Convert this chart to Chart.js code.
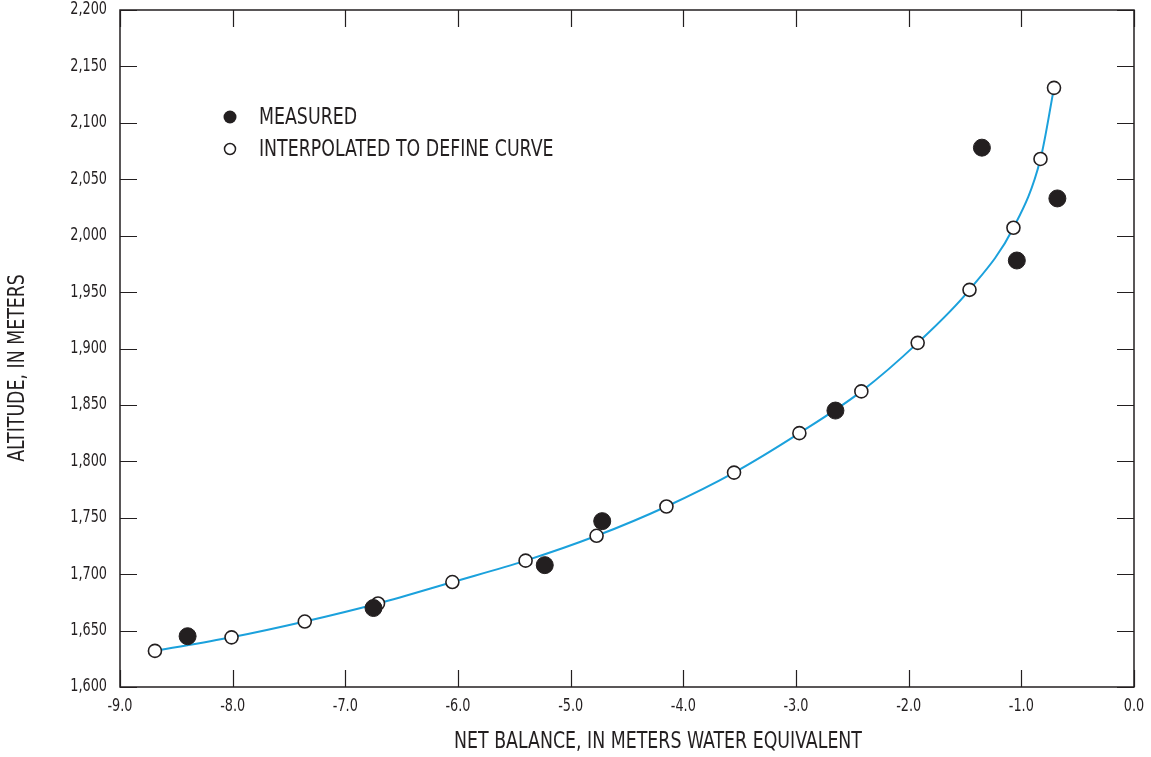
<!DOCTYPE html>
<html>
<head>
<meta charset="utf-8">
<script src="https://cdn.jsdelivr.net/npm/chart.js@4"></script>
<style>
  body { margin: 0; background: #fff; }
  #wrap { width: 1151px; height: 757px; position: relative; }
</style>
</head>
<body>
<div id="wrap"><canvas id="altchart"></canvas></div>
<script>
// values
var interpBalance = [-8.69, -8.01, -7.36, -6.71, -6.05, -5.40, -4.77, -4.15, -3.55, -2.97, -2.42, -1.92, -1.46, -1.07, -0.83, -0.71];
var interpAltitude = [1632, 1644, 1658, 1674, 1693, 1712, 1734, 1760, 1790, 1825, 1862, 1905, 1952, 2007, 2068, 2131];
var measBalance = [-8.40, -6.75, -5.23, -4.72, -2.65, -1.35, -1.04, -0.68];
var measAltitude = [1645, 1670, 1708, 1747, 1845, 2078, 1978, 2033];
var legendLabels = ['MEASURED', 'INTERPOLATED TO DEFINE CURVE'];
var xTitle = 'NET BALANCE, IN METERS WATER EQUIVALENT';
var yTitle = 'ALTITUDE, IN METERS';

var ink = '#231f20';
var fontFam = "'DejaVu Sans Condensed', 'Liberation Sans Narrow', sans-serif";
var squeeze = 0.84; // narrow the text like the condensed face in the figure

function toPoints(xs, ys) {
  return xs.map(function (x, i) { return { x: x, y: ys[i] }; });
}

var canvas = document.getElementById('altchart');
var cctx = canvas.getContext('2d');
var rawFill = CanvasRenderingContext2D.prototype.fillText;
cctx.fillText = function (text, x, y, maxW) {
  this.save();
  this.translate(x, y);
  this.scale(squeeze, 1);
  if (maxW === undefined) rawFill.call(this, text, 0, 0);
  else rawFill.call(this, text, 0, 0, maxW / squeeze);
  this.restore();
};

// box + inward tick marks + legend + axis titles
var frame = {
  id: 'frame',
  beforeDatasetsDraw: function (chart) {
    var ctx = chart.ctx, a = chart.chartArea;
    var sx = chart.scales.x, sy = chart.scales.y;
    var len = 17;
    ctx.save();
    ctx.strokeStyle = ink;
    ctx.lineWidth = 1.5;
    ctx.strokeRect(a.left, a.top, a.right - a.left, a.bottom - a.top);
    ctx.lineWidth = 1.2;
    ctx.beginPath();
    sx.ticks.forEach(function (t) {
      var px = Math.round(sx.getPixelForValue(t.value)) + 0.5;
      ctx.moveTo(px, a.bottom); ctx.lineTo(px, a.bottom - len);
      ctx.moveTo(px, a.top); ctx.lineTo(px, a.top + len);
    });
    sy.ticks.forEach(function (t) {
      var py = Math.round(sy.getPixelForValue(t.value)) + 0.5;
      ctx.moveTo(a.left, py); ctx.lineTo(a.left + len, py);
      ctx.moveTo(a.right, py); ctx.lineTo(a.right - len, py);
    });
    ctx.stroke();
    ctx.restore();
  },
  afterDraw: function (chart) {
    var ctx = chart.ctx, a = chart.chartArea;
    var lx = a.left + 110, ly = a.top + 107;
    ctx.save();
    ctx.fillStyle = ink;
    ctx.beginPath();
    ctx.arc(lx, ly, 6.5, 0, Math.PI * 2);
    ctx.fill();
    ctx.beginPath();
    ctx.arc(lx, ly + 32, 5.5, 0, Math.PI * 2);
    ctx.fillStyle = '#fff';
    ctx.fill();
    ctx.lineWidth = 1.5;
    ctx.strokeStyle = ink;
    ctx.stroke();
    ctx.fillStyle = ink;
    ctx.font = '23px ' + fontFam;
    ctx.textBaseline = 'middle';
    ctx.fillText(legendLabels[0], lx + 29, ly + 1);
    ctx.fillText(legendLabels[1], lx + 29, ly + 33);

    // axis titles, set a little off-centre as in the figure
    ctx.font = '23px ' + fontFam;
    ctx.textAlign = 'center';
    ctx.fillText(xTitle, 658, 742);
    ctx.translate(18, 368);
    ctx.rotate(-Math.PI / 2);
    ctx.fillText(yTitle, 0, 0);
    ctx.restore();
  }
};

var myChart = new Chart(canvas, {
  type: 'scatter',
  data: {
    datasets: [{
      label: legendLabels[0],
      data: toPoints(measBalance, measAltitude),
      backgroundColor: ink,
      borderColor: ink,
      pointRadius: 8.5,
      pointHoverRadius: 8.5,
      showLine: false
    }, {
      label: legendLabels[1],
      data: toPoints(interpBalance, interpAltitude),
      showLine: true,
      borderColor: '#1ba1dc',
      borderWidth: 2,
      cubicInterpolationMode: 'monotone',
      pointRadius: 6.5,
      pointHoverRadius: 6.5,
      pointBorderWidth: 1.6,
      pointBorderColor: ink,
      pointBackgroundColor: '#fff'
    }]
  },
  options: {
    responsive: true,
    maintainAspectRatio: false,
    animation: false,
    layout: { padding: { top: 10, right: 17, left: 0, bottom: 0 } },
    plugins: {
      legend: { display: false },
      tooltip: { enabled: false }
    },
    scales: {
      x: {
        type: 'linear',
        min: -9,
        max: 0,
        grid: { display: false, drawTicks: false },
        border: { display: false },
        ticks: {
          stepSize: 1,
          padding: 9,
          color: ink,
          font: { family: fontFam, size: 17 },
          callback: function (v) { return Math.abs(v) < 1e-9 ? '0.0' : v.toFixed(1); }
        },
        afterFit: function (s) { s.height = 70; s.paddingLeft = 0; s.paddingRight = 0; }
      },
      y: {
        min: 1600,
        max: 2200,
        grid: { display: false, drawTicks: false },
        border: { display: false },
        ticks: {
          stepSize: 50,
          padding: 13,
          color: ink,
          font: { family: fontFam, size: 17 },
          callback: function (v) { return v.toLocaleString('en-US'); }
        },
        afterFit: function (s) { s.width = 120; s.paddingTop = 0; s.paddingBottom = 0; }
      }
    }
  },
  plugins: [frame]
});
</script>
</body>
</html>
